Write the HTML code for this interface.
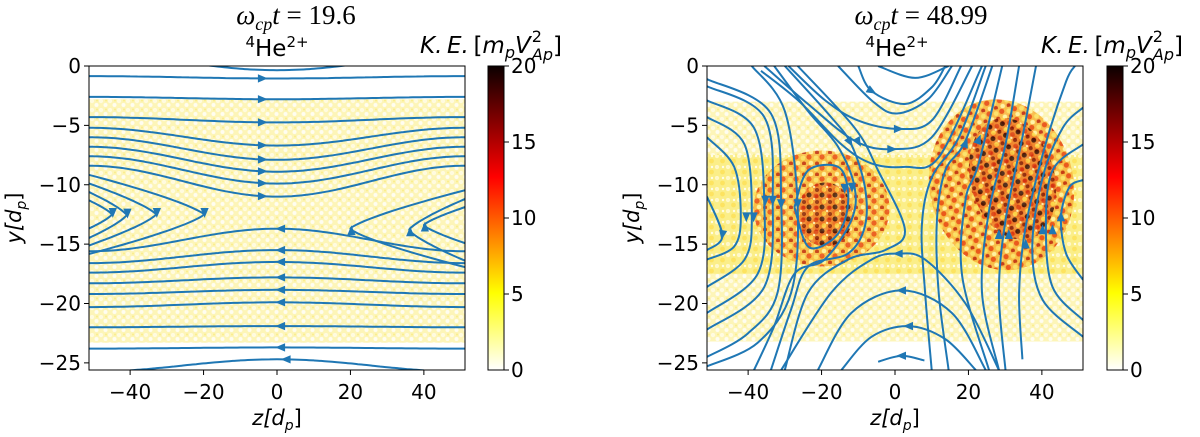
<!DOCTYPE html>
<html><head><meta charset="utf-8"><style>
html,body{margin:0;padding:0;background:#fff;}
svg{display:block;}
text{font-family:"DejaVu Sans","Liberation Sans",sans-serif;fill:#000;}
</style></head><body>
<svg id="fig" width="1200" height="437" viewBox="0 0 1200 437" xmlns="http://www.w3.org/2000/svg">
<defs>
<pattern id="paleDots" width="9" height="9" patternUnits="userSpaceOnUse">
<rect width="9" height="9" fill="#fdf5b8"/>
<circle cx="2" cy="2" r="2.2" fill="#fffbe0"/>
<circle cx="6.5" cy="6" r="2" fill="#fffdf0"/>
<circle cx="7" cy="1.5" r="1" fill="#fbed8a"/>
</pattern>
<pattern id="yelDots" width="11" height="11" patternUnits="userSpaceOnUse">
<rect width="11" height="11" fill="#fbee88"/>
<circle cx="2" cy="2" r="2.2" fill="#fff8c8"/>
<circle cx="7.5" cy="7" r="2.4" fill="#fde360"/>
<circle cx="8" cy="2" r="1.2" fill="#fffde8"/>
</pattern>
<pattern id="hotDots" width="13" height="11" patternUnits="userSpaceOnUse">
<rect width="13" height="11" fill="#f8b840"/>
<circle cx="3" cy="3" r="2.6" fill="#e84a10"/>
<circle cx="10" cy="4" r="2.4" fill="#fbe060"/>
<circle cx="5" cy="9" r="2.3" fill="#fff2a0"/>
<circle cx="11" cy="9.5" r="2" fill="#c02a0a"/>
</pattern>
<pattern id="darkDots" width="13" height="12" patternUnits="userSpaceOnUse">
<rect width="13" height="12" fill="#ee7a28"/>
<circle cx="3" cy="3" r="2.5" fill="#2a0000"/>
<circle cx="10" cy="4" r="2.4" fill="#d83010"/>
<circle cx="5" cy="9.5" r="2.4" fill="#fcd848"/>
<circle cx="11" cy="10" r="2" fill="#7a0a00"/>
<circle cx="8" cy="7" r="1.2" fill="#fff0c0"/>
</pattern>
<linearGradient id="hotR" x1="0" y1="0" x2="0" y2="1">
<stop offset="0" stop-color="#0b0000"/>
<stop offset="0.365" stop-color="#ff0000"/>
<stop offset="0.746" stop-color="#ffff00"/>
<stop offset="1" stop-color="#ffffff"/>
</linearGradient>
<clipPath id="clipL"><rect x="89" y="66" width="376" height="304"/></clipPath>
<clipPath id="clipR"><rect x="707" y="66" width="376" height="304"/></clipPath>
</defs>
</svg>
<script>
// ---- axis data ----
const xTicks = [-40, -20, 0, 20, 40];
const yTicks = [0, -5, -10, -15, -20, -25];
const cbTicks = [0, 5, 10, 15, 20];
const zRange = [-51.2, 51.2];
const yRange = [0, -25.6];
const cbRange = [0, 20];

// ---- left panel (t=19.6) field-line data ----
const leftTopEdge   = [-0.85, -2.6, -4.3, -5.2, -6.0, -6.8, -7.6, -8.4];
const leftTopCenter = [-1.05, -2.8, -4.75, -6.7, -7.9, -8.9, -9.9, -11.0];
const leftBotEdge   = [-15.6, -16.6, -17.4, -18.3, -19.2, -20.3, -22.0, -23.8];
const leftBotCenter = [-13.7, -15.5, -16.5, -17.8, -18.85, -19.9, -21.9, -23.7];
const leftArcEdge   = [1.0, -25.75];
const leftArcCenter = [-0.35, -24.7];
const leftIslTop = [-11.2, -10.5, -9.8, -9.1];
const leftIslBot = [-13.8, -14.6, -15.2, -15.9];
const leftIslTip = [-45, -41, -33, -20];
const rightIslTop = [-11.8, -11.1, -10.4];
const rightIslBot = [-15.0, -16.5, -17.0];
const rightIslTip = [40, 36, 20];

// ---- right panel (t=48.99) field-line data: [z, y] ----
const rLines = [
 [[-4.6,0],[5.5,-1.0],[14.6,0]],
 [[-10,0],[-6.4,-2.1],[2.7,-3.2],[10,-1.8],[13.7,0]],
 [[-15.5,0],[-6,-3],[0.5,-4.0],[9,-2.8],[15.5,0]],
 [[-29,0],[-19,-2.9],[-10,-4.6],[0.9,-5.3],[10,-4.6],[18,0]],
 [[-35.6,0],[-23.7,-3.2],[-11,-6.3],[-0.9,-7],[10,-6],[21,0]],
 [[-36.5,-0.4],[-26,-3],[-14.6,-6.6],[-6.4,-8.2],[2.7,-8.5],[11.9,-7.7],[23.7,0]],
 [[-4.6,-24.9],[1.8,-24.4],[8,-24.8]],
 [[-14.6,-25.6],[-6.4,-22.8],[3.7,-21.9],[13.7,-23],[22,-25.6]],
 [[-21,-25.6],[-11.9,-20.8],[1.8,-18.9],[15.5,-20.8],[24.7,-25.6]],
 [[-31,-25.6],[-17.4,-19.1],[-6.4,-16.3],[0.9,-15.8],[8.2,-16.3],[19.2,-20],[28.3,-25.6]],
 [[-51.2,-11],[-47,-14.3],[-51.2,-15.5]],
 [[-51.2,-6],[-43.8,-8.5],[-42,-12.7],[-43.8,-15.2],[-51.2,-16.3]],
 [[-51.2,-4.3],[-41,-6.6],[-39,-12.7],[-41,-16.3],[-51.2,-18.6]],
 [[-51.2,-2.9],[-38.4,-5.2],[-35.6,-11.6],[-37.4,-17.5],[-51.2,-20.8]],
 [[-51.2,-1.7],[-35.6,-4.3],[-33.3,-11.3],[-35.6,-18.6],[-51.2,-22.2]],
 [[-51.2,-1.1],[-33.8,-4],[-31,-11.6],[-32,-19.1],[-40,-22.5],[-51.2,-24.5]],
 [[-39,0],[-30,-3.8],[-26.5,-11.9],[-28.3,-19.1],[-37.4,-23.3],[-51.2,-25.3]],
 [[-32.9,0],[-23.7,-3.8],[-15.5,-6.8],[-11,-10.2],[-11.9,-13],[-19.2,-16.3],[-27.4,-17.5],[-32.9,-21.9],[-38.4,-25.6]],
 [[-30,0],[-17.4,-4.3],[-11.9,-6.6],[-8.2,-10.2],[-8.2,-13.5],[-12.8,-15.8],[-23.7,-16.9],[-28.3,-20.5],[-33.8,-25.6]],
 [[-26.5,0],[-11,-5.2],[-4.6,-8.8],[2.7,-13.8],[-2.7,-15.5],[-12.8,-16.3],[-23.7,-19.1],[-30,-25.6]],
 [[-27.4,-11.9],[-23.7,-8.8],[-15.5,-8.5],[-12.8,-10.5],[-13.7,-13],[-17.4,-14.7],[-23.7,-15.2],[-27.4,-11.9]],
 [[10,-25.6],[8.2,-19.1],[7.3,-13.5],[10,-9.4],[17.4,-6],[24.7,0]],
 [[14.6,-25.6],[11.9,-19.1],[11.4,-13],[13.7,-8.8],[19.2,-6.3],[26.5,0]],
 [[25.6,-25.6],[18.3,-17.7],[19.2,-11.3],[22.8,-8.2],[29.2,0]],
 [[28.3,-25.6],[23.7,-19.1],[25.6,-12.2],[30.1,-6.6],[33.8,0]],
 [[30.1,-25.6],[28.3,-19.1],[30.1,-13],[34.7,-6],[38.4,0]],
 [[34.7,-24.7],[33.8,-19.1],[35.6,-13.5],[41,-6.6],[46.6,-1.3],[49,0]],
 [[51.2,-22.8],[40.2,-19.7],[37.4,-15.2],[40.2,-9.4],[45.7,-5.2],[51.2,-3.5]],
 [[51.2,-21.4],[42.9,-18.6],[41.1,-13.5],[42.9,-8.8],[51.2,-6.6]],
 [[51.2,-18],[46.6,-15.8],[45.2,-12.7],[47.5,-10.2],[51.2,-9.6]]
];
// right-panel arrows: z, y, direction (deg: 0 right, 90 down, 180 left, 270 up)
const rArrowZ = [-6.4,0.9,-0.9,1.8,3.7,1.8,0.9,-47,-40.5,-38.5,-35.3,-33.3,-31,-26.5,-13.7,-11.7,-12.3,-10,19.2,22.8,28.3,31,35.6,40.2,42.9,45.2];
const rArrowY = [-2.1,-5.3,-7,-24.4,-21.9,-18.9,-15.8,-14.2,-12.7,-12.7,-11.3,-11.3,-11.6,-11.6,-10.3,-10.2,-6.4,-6.4,-6.5,-6.2,-14.2,-14.2,-15.0,-13.8,-13.8,-12.7];
const rArrowDir = [30,0,0,180,180,180,180,100,90,90,90,90,90,90,90,90,60,60,290,290,270,270,270,270,270,270];

// ---- scales ----
function sx(off){ return z => off + (z - zRange[0]) / (zRange[1] - zRange[0]) * 376; }
function sy(y){ return 66 + (y - yRange[0]) / (yRange[1] - yRange[0]) * 304; }
const sxL = sx(89), sxR = sx(707);
function cbY(v){ return 370 - (v - cbRange[0]) / (cbRange[1] - cbRange[0]) * 304; }

const NS = "http://www.w3.org/2000/svg";
const fig = document.getElementById('fig');
function el(tag, attrs, parent){
  const e = document.createElementNS(NS, tag);
  for (const k in attrs) e.setAttribute(k, attrs[k]);
  (parent || fig).appendChild(e);
  return e;
}
const BLUE = "#1f77b4";

function crPath(pts, X){
  const p = pts.map(q => [X(q[0]), sy(q[1])]);
  let d = "M" + p[0][0].toFixed(1) + "," + p[0][1].toFixed(1);
  for (let i = 0; i < p.length - 1; i++){
    const p0 = p[i-1] || p[i], p1 = p[i], p2 = p[i+1], p3 = p[i+2] || p[i+1];
    const c1 = [p1[0] + (p2[0]-p0[0])/6, p1[1] + (p2[1]-p0[1])/6];
    const c2 = [p2[0] - (p3[0]-p1[0])/6, p2[1] - (p3[1]-p1[1])/6];
    d += "C" + c1.map(v=>v.toFixed(1)).join(",") + " " + c2.map(v=>v.toFixed(1)).join(",") + " " + p2.map(v=>v.toFixed(1)).join(",");
  }
  return d;
}
function arrow(g, px, py, deg){
  const a = deg * Math.PI / 180, s = 5.5;
  const ca = Math.cos(a), sa = Math.sin(a);
  const pts = [[s,0],[-s*0.8,-s*0.75],[-s*0.8,s*0.75]].map(q => (px + q[0]*ca - q[1]*sa).toFixed(1) + "," + (py + q[0]*sa + q[1]*ca).toFixed(1));
  const t = el('polygon', {points: pts.join(" "), fill: BLUE}, g);
  
  
}
function profile(e, c, z){ return e + (c - e) * (1 + Math.cos(Math.PI * z / 51.2)) / 2; }
function profilePath(e, c, X){
  const pts = [];
  for (let z = -52; z <= 52; z += 2) pts.push([z, profile(e, c, z)]);
  return crPath(pts, X);
}
function islandPath(top, bot, tip, edge, X){
  const ym = (top + bot) / 2, h = (top - bot) / 2, pts = [];
  for (let k = 0; k <= 20; k++){
    const y = top - (top - bot) * k / 20;
    const u = (y - ym) / h;
    pts.push([tip + (edge - tip) * Math.pow(Math.abs(u), 1.3), y]);
  }
  return crPath(pts, X);
}

function axesFrame(off, X, name){
  const g = el('g', {});
  
  
  el('rect', {x: off, y: 66, width: 376, height: 304, fill: 'none', stroke: '#000', 'stroke-width': 1}, g);
  xTicks.forEach(v => {
    el('line', {x1: X(v), x2: X(v), y1: 370, y2: 375, stroke: '#000'}, g);
    const t = el('text', {x: X(v), y: 399, 'font-size': 20, 'text-anchor': 'middle'}, g);
    t.textContent = v < 0 ? "\u2212" + (-v) : String(v);
    
    
  });
  yTicks.forEach(v => {
    el('line', {x1: off - 5, x2: off, y1: sy(v), y2: sy(v), stroke: '#000'}, g);
    const t = el('text', {x: off - 8, y: sy(v) + 7, 'font-size': 20, 'text-anchor': 'end'}, g);
    t.textContent = v < 0 ? "\u2212" + (-v) : String(v);
    
    
  });
  const xl = el('text', {x: X(0), y: 425, 'font-size': 21, 'text-anchor': 'middle', 'font-style': 'italic'}, g);
  xl.innerHTML = 'z[d<tspan font-size="14" dy="5">p</tspan><tspan dy="-5" font-style="normal">]</tspan>';
  
  
  const yl = el('text', {x: 0, y: 0, 'font-size': 21, 'text-anchor': 'middle', 'font-style': 'italic', transform: 'translate(' + (off - 68) + ',218) rotate(-90)'}, g);
  yl.innerHTML = 'y[d<tspan font-size="14" dy="5">p</tspan><tspan dy="-5" font-style="normal">]</tspan>';
  
  
}
function colorbar(x0, name, keX){
  const g = el('g', {});
  
  
  el('rect', {x: x0, y: 66, width: 16, height: 304, fill: 'url(#hotR)', stroke: '#000', 'stroke-width': 1}, g);
  cbTicks.forEach(v => {
    el('line', {x1: x0 + 16, x2: x0 + 21, y1: cbY(v), y2: cbY(v), stroke: '#000'}, g);
    const t = el('text', {x: x0 + 23, y: cbY(v) + 7, 'font-size': 20}, g);
    t.textContent = String(v);
    
    
  });
  const k = el('text', {x: keX, y: 53, 'font-size': 23, 'font-style': 'italic'}, g);
  k.innerHTML = 'K.&#8201;E.&#8201;<tspan font-style="normal">[</tspan>m<tspan font-size="16" dy="5">p</tspan><tspan dy="-5">V</tspan><tspan font-size="16" font-style="normal" dx="1" dy="-11">2</tspan><tspan font-size="16" dx="-10" dy="18">Ap</tspan><tspan font-style="normal" dy="-7">]</tspan>';
  
  
}
function titles(cx, tcx, tval){
  const t1 = el('text', {x: tcx, y: 24, 'font-size': 27, 'text-anchor': 'middle', style: 'font-family:"Liberation Serif",serif'});
  t1.innerHTML = '<tspan font-style="italic">\u03c9</tspan><tspan font-style="italic" font-size="18" dy="6">cp</tspan><tspan font-style="italic" dy="-6">t</tspan> = ' + tval;
  
  
  const t2 = el('text', {x: cx, y: 56, 'font-size': 23, 'text-anchor': 'middle'});
  t2.innerHTML = '<tspan font-size="15" dy="-9">4</tspan><tspan dy="9">He</tspan><tspan font-size="15" dy="-9">2+</tspan>';
  
  
}

// ===== LEFT PANEL =====
(function(){
  const g = el('g', {'clip-path': 'url(#clipL)'});
  
  
  const band = el('rect', {x: 89, y: sy(-2.8), width: 376, height: sy(-23.3) - sy(-2.8), fill: 'url(#paleDots)'}, g);
  
  
  const lines = el('g', {fill: 'none', stroke: BLUE, 'stroke-width': 2}, g);
  
  
  const ag = el('g', {}, g);
  for (let i = 0; i < leftArcEdge.length; i++){
    const p = el('path', {d: profilePath(leftArcEdge[i], leftArcCenter[i], sxL)}, lines);
    
    
  }
  arrow(ag, sxL(2.5), sy(profile(leftArcEdge[1], leftArcCenter[1], 2.5)), 180);
  for (let i = 0; i < leftTopEdge.length; i++){
    const p = el('path', {d: profilePath(leftTopEdge[i], leftTopCenter[i], sxL)}, lines);
    
    
    arrow(ag, sxL(-4), sy(profile(leftTopEdge[i], leftTopCenter[i], -4)), 0);
  }
  for (let i = 0; i < leftBotEdge.length; i++){
    const p = el('path', {d: profilePath(leftBotEdge[i], leftBotCenter[i], sxL)}, lines);
    
    
    arrow(ag, sxL(1), sy(profile(leftBotEdge[i], leftBotCenter[i], 1)), 180);
  }
  for (let i = 0; i < leftIslTip.length; i++){
    const p = el('path', {d: islandPath(leftIslTop[i], leftIslBot[i], leftIslTip[i], -52, sxL)}, lines);
    
    
    arrow(ag, sxL(leftIslTip[i]) + 1, sy((leftIslTop[i] + leftIslBot[i]) / 2) - 2, 90);
  }
  for (let i = 0; i < rightIslTip.length; i++){
    const p = el('path', {d: islandPath(rightIslTop[i], rightIslBot[i], rightIslTip[i], 52, sxL)}, lines);
    
    
    arrow(ag, sxL(rightIslTip[i]) + 1, sy((rightIslTop[i] + rightIslBot[i]) / 2) + 2, 270);
  }
  axesFrame(89, sxL, 'left');
  colorbar(488, 'left-colorbar', 420);
  titles(277, 296, '19.6');
})();

// ===== RIGHT PANEL =====
(function(){
  const g = el('g', {'clip-path': 'url(#clipR)'});
  
  
  const band = el('rect', {x: 707, y: sy(-3), width: 376, height: sy(-23.2) - sy(-3), fill: 'url(#paleDots)'}, g);
  
  
  const mid = el('rect', {x: 707, y: sy(-7.5), width: 376, height: sy(-17.5) - sy(-7.5), fill: 'url(#yelDots)'}, g);
  
  
  const h1 = el('ellipse', {cx: sxR(-20), cy: sy(-12), rx: 68, ry: 58, fill: 'url(#hotDots)', opacity: 0.85}, g);
  
  
  const h1b = el('ellipse', {cx: sxR(-19), cy: sy(-12.5), rx: 28, ry: 32, fill: 'url(#darkDots)', opacity: 0.75}, g);
  
  
  const h2 = el('ellipse', {cx: sxR(29), cy: sy(-10), rx: 72, ry: 86, fill: 'url(#hotDots)', opacity: 0.9, transform: 'rotate(-12 ' + sxR(29) + ' ' + sy(-10) + ')'}, g);
  
  
  const h2b = el('ellipse', {cx: sxR(32), cy: sy(-9.5), rx: 42, ry: 62, fill: 'url(#darkDots)', opacity: 0.8, transform: 'rotate(-15 ' + sxR(32) + ' ' + sy(-9.5) + ')'}, g);
  
  
  const lines = el('g', {fill: 'none', stroke: BLUE, 'stroke-width': 2}, g);
  
  
  rLines.forEach(L => {
    const p = el('path', {d: crPath(L, sxR)}, lines);
    
    
  });
  const ag = el('g', {}, g);
  for (let i = 0; i < rArrowZ.length; i++) arrow(ag, sxR(rArrowZ[i]), sy(rArrowY[i]), rArrowDir[i]);
  axesFrame(707, sxR, 'right');
  colorbar(1107, 'right-colorbar', 1041);
  titles(897, 921, '48.99');
})();
</script>
</body></html>
